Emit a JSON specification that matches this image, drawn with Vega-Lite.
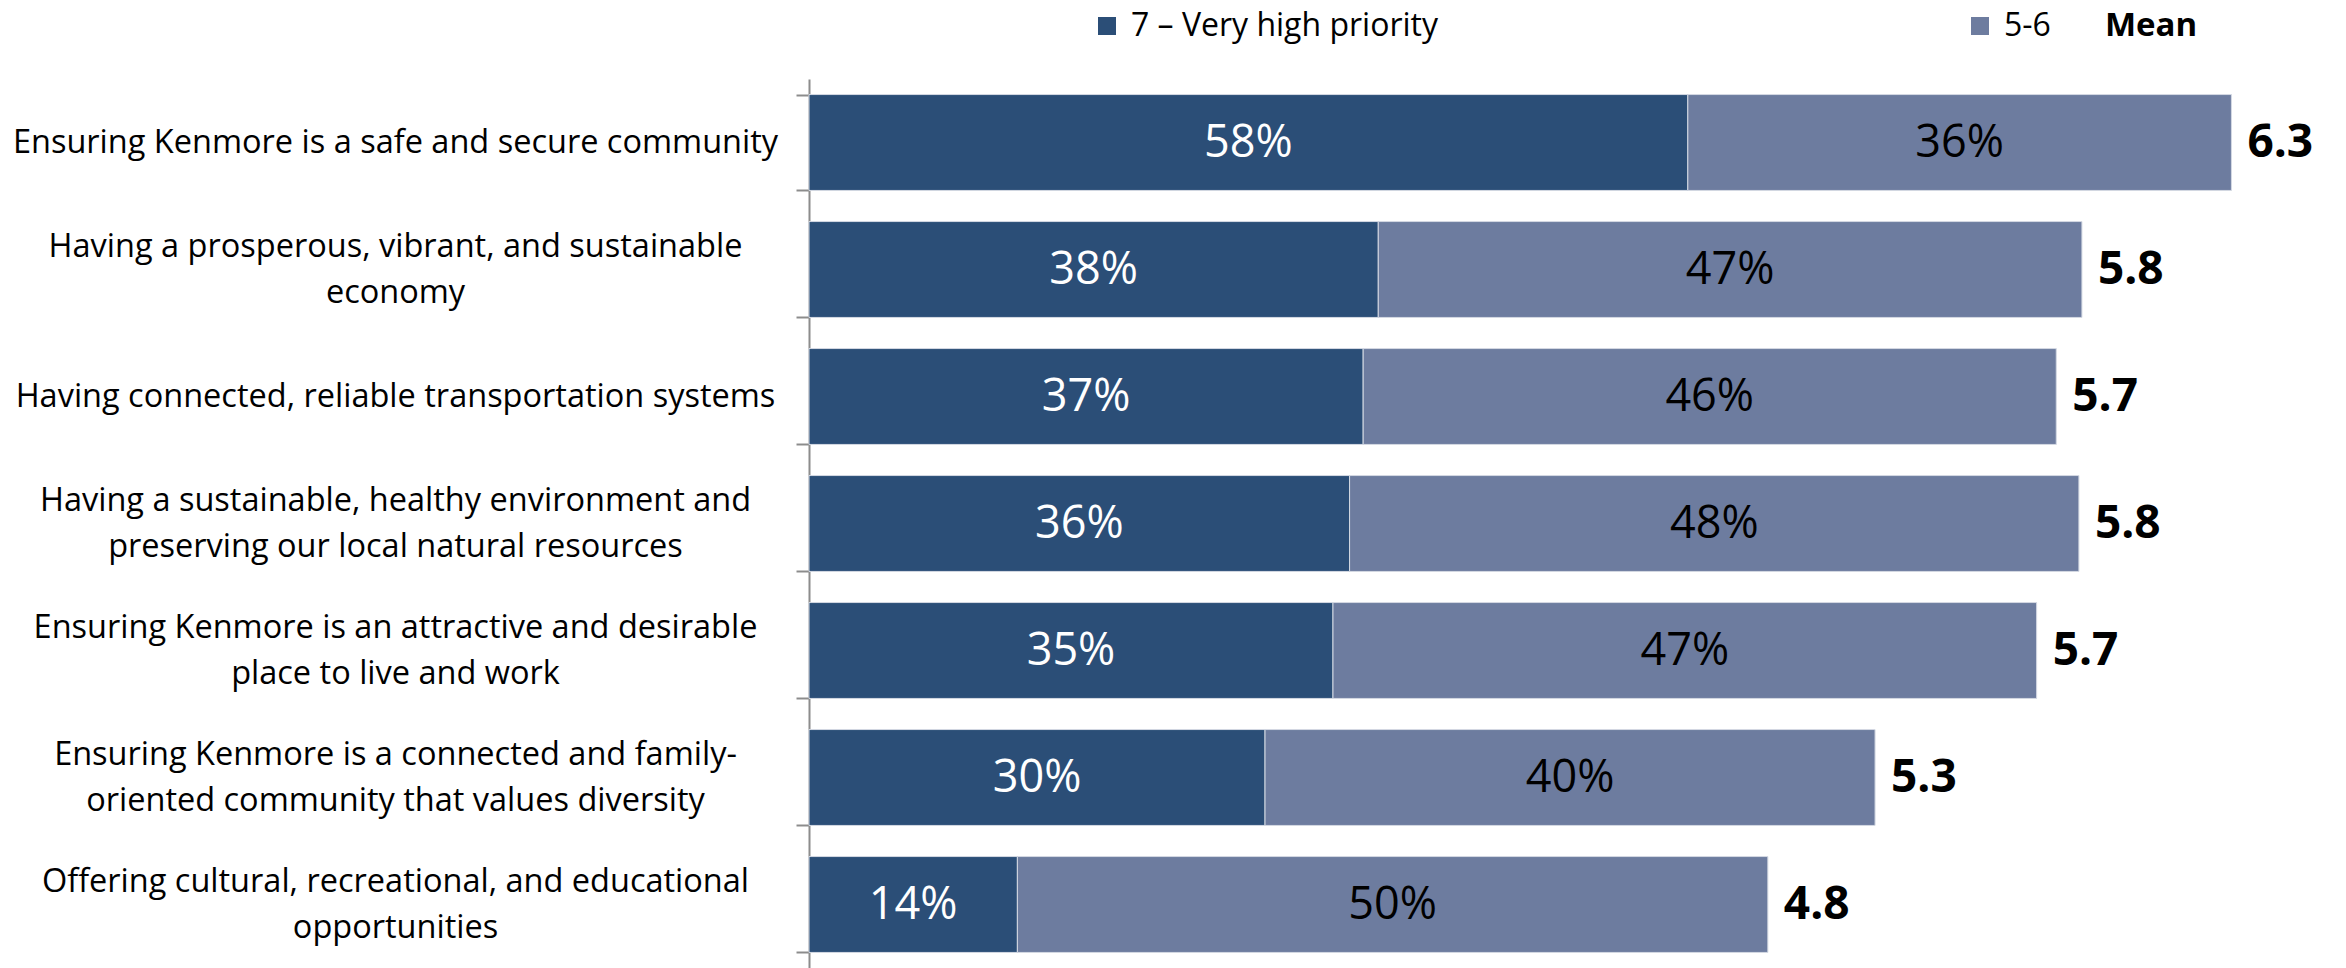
{
  "$schema": "https://vega.github.io/schema/vega-lite/v6.json",
  "width": 1510,
  "height": 889,
  "autosize": {"type": "none"},
  "padding": {"left": 809, "top": 79, "right": 27, "bottom": 0},
  "background": "white",
  "config": {"view": {"stroke": null}, "font": "Open Sans"},
  "data": {
    "values": [
      {"cat": "Ensuring Kenmore is a safe and secure community", "seg": "7 – Very high priority", "pct": 0.582, "mean": 6.3},
      {"cat": "Ensuring Kenmore is a safe and secure community", "seg": "5-6", "pct": 0.360, "mean": 6.3},
      {"cat": "Having a prosperous, vibrant, and sustainable\neconomy", "seg": "7 – Very high priority", "pct": 0.377, "mean": 5.8},
      {"cat": "Having a prosperous, vibrant, and sustainable\neconomy", "seg": "5-6", "pct": 0.466, "mean": 5.8},
      {"cat": "Having connected, reliable transportation systems", "seg": "7 – Very high priority", "pct": 0.367, "mean": 5.7},
      {"cat": "Having connected, reliable transportation systems", "seg": "5-6", "pct": 0.459, "mean": 5.7},
      {"cat": "Having a sustainable, healthy environment and\npreserving our local natural resources", "seg": "7 – Very high priority", "pct": 0.358, "mean": 5.8},
      {"cat": "Having a sustainable, healthy environment and\npreserving our local natural resources", "seg": "5-6", "pct": 0.483, "mean": 5.8},
      {"cat": "Ensuring Kenmore is an attractive and desirable\nplace to live and work", "seg": "7 – Very high priority", "pct": 0.347, "mean": 5.7},
      {"cat": "Ensuring Kenmore is an attractive and desirable\nplace to live and work", "seg": "5-6", "pct": 0.466, "mean": 5.7},
      {"cat": "Ensuring Kenmore is a connected and family-\noriented community that values diversity", "seg": "7 – Very high priority", "pct": 0.302, "mean": 5.3},
      {"cat": "Ensuring Kenmore is a connected and family-\noriented community that values diversity", "seg": "5-6", "pct": 0.404, "mean": 5.3},
      {"cat": "Offering cultural, recreational, and educational\nopportunities", "seg": "7 – Very high priority", "pct": 0.138, "mean": 4.8},
      {"cat": "Offering cultural, recreational, and educational\nopportunities", "seg": "5-6", "pct": 0.497, "mean": 4.8}
    ]
  },
  "transform": [
    {"stack": "pct", "groupby": ["cat"], "sort": [{"field": "seg", "order": "descending"}], "as": ["v0", "v1"]},
    {"calculate": "(datum.v0 + datum.v1) / 2", "as": "mid"}
  ],
  "encoding": {
    "y": {
      "field": "cat",
      "type": "nominal",
      "sort": null,
      "scale": {"paddingInner": 0.245, "paddingOuter": 0.1225},
      "axis": {
        "title": null,
        "labelAlign": "center",
        "labelBaseline": "middle",
        "labelPadding": 401,
        "labelLimit": 900,
        "labelFontSize": 32.5,
        "labelFont": "Open Sans",
        "labelColor": "black",
        "labelLineHeight": 23,
        "labelOffset": -23,
        "labelExpr": "indexof(datum.label, '\\n') >= 0 ? [split(datum.label, '\\n')[0], '\u200b', split(datum.label, '\\n')[1]] : ['', datum.label]",
        "tickBand": "extent",
        "tickSize": 13,
        "tickColor": "#8c8c8c",
        "tickWidth": 2,
        "domainColor": "#8c8c8c",
        "domainWidth": 2
      }
    }
  },
  "layer": [
    {
      "mark": {"type": "bar", "stroke": "#d4d9e3", "strokeWidth": 1},
      "encoding": {
        "x": {"field": "v0", "type": "quantitative", "scale": {"domain": [0, 1], "nice": false}, "axis": null},
        "x2": {"field": "v1"},
        "color": {
          "field": "seg",
          "type": "nominal",
          "scale": {"domain": ["7 – Very high priority", "5-6"], "range": ["#2B4E77", "#6D7C9F"]},
          "legend": {
            "orient": "none",
            "legendX": 282,
            "legendY": -69,
            "direction": "horizontal",
            "title": "Mean",
            "titleOrient": "right",
            "titleFontSize": 33,
            "titleFontWeight": "bold",
            "titleFont": "Open Sans",
            "titleColor": "black",
            "titlePadding": 54,
            "titleBaseline": "middle",
            "symbolType": "square",
            "symbolSize": 324,
            "symbolStrokeWidth": 0,
            "labelFontSize": 32,
            "labelFont": "Open Sans",
            "labelColor": "black",
            "labelOffset": 8,
            "columnPadding": 526,
            "labelLimit": 600
          }
        }
      }
    },
    {
      "mark": {"type": "text", "fontSize": 45, "baseline": "middle", "font": "Open Sans"},
      "encoding": {
        "x": {"field": "mid", "type": "quantitative"},
        "text": {"field": "pct", "format": ".0%"},
        "color": {"condition": {"test": "datum.seg === '5-6'", "value": "black"}, "value": "white"}
      }
    },
    {
      "transform": [{"filter": "datum.seg === '5-6'"}],
      "mark": {"type": "text", "align": "left", "dx": 16, "fontSize": 46, "fontWeight": "bold", "baseline": "middle", "color": "black", "font": "Open Sans"},
      "encoding": {
        "x": {"field": "v1", "type": "quantitative"},
        "text": {"field": "mean", "format": ".1f"}
      }
    }
  ]
}
